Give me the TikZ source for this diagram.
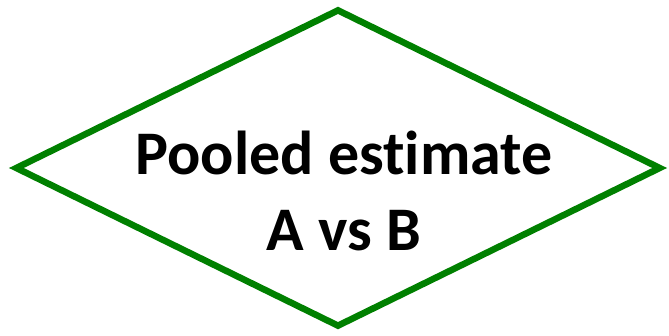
\documentclass[tikz,border=0pt]{standalone}
\usepackage{fontspec}
\newfontfamily\calib[Ligatures=NoCommon]{Carlito}
\usetikzlibrary{shapes.geometric, positioning}
\definecolor{decgreen}{RGB}{0,128,0}

\begin{document}
\begin{tikzpicture}[
    x=1pt, y=-1pt,
    decision/.style={diamond, draw=decgreen, line width=6.5pt, fill=white, inner sep=0pt, minimum width=646pt, minimum height=318pt, aspect=2.03},
    label/.style={align=center, inner sep=0pt, font=\calib\bfseries\fontsize{62}{76}\selectfont}
]
\useasboundingbox (0,0) rectangle (669,336);

% Components
\node[decision] (pool) at (338,168) {};
\node[label] (pooltext) at (344,191) {Pooled estimate\\A vs B};

\end{tikzpicture}
\end{document}
